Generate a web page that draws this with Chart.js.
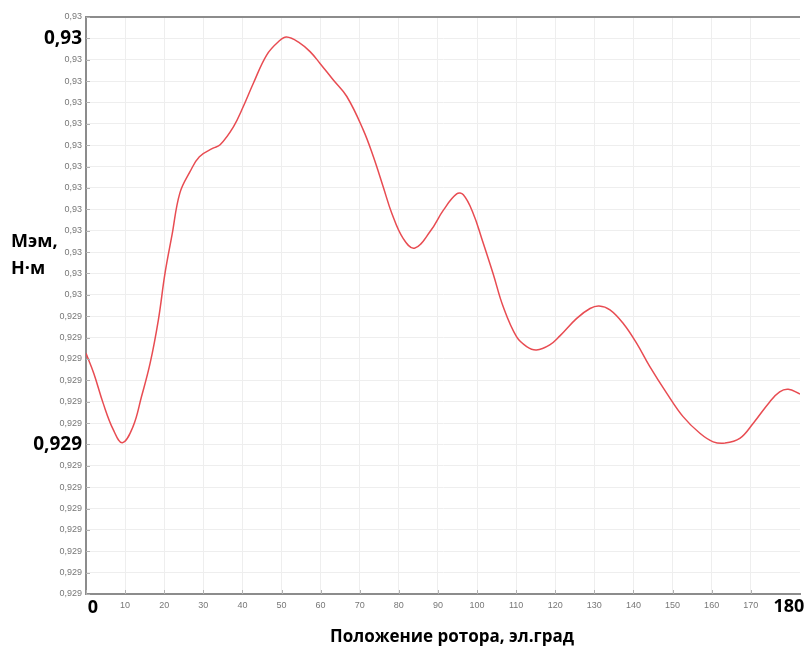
<!doctype html>
<html lang="ru">
<head>
<meta charset="utf-8">
<title>Мэм от положения ротора</title>
<script src="https://cdn.jsdelivr.net/npm/chart.js@4.4.0/dist/chart.umd.min.js"></script>
<style>
  body { margin: 0; background: #fff; }
  #wrap { width: 807px; height: 650px; }
</style>
</head>
<body>
<div id="wrap"><canvas id="chart" width="807" height="650"></canvas></div>
<script>
// положение ротора, эл.град
var rotorAngle = [0, 2, 4.4, 7, 9.3, 12, 14.2, 16.4, 18.5, 20.2, 22, 24, 26.6, 29, 32.5, 34.3, 37.7, 40.2,
  42.8, 46.2, 49.2, 51.3, 54.7, 57.3, 59.8, 63.2, 66.7, 70.9, 73.5, 76, 78.2, 81.1, 84, 88, 91.4, 94.8,
  96.5, 99, 101.2, 104.1, 106.7, 110.1, 112.7, 115.2, 118.6, 121.2, 125.5, 128.9, 131.2, 134, 137.4,
  140.8, 144.2, 148.5, 152.7, 157, 160.4, 163.4, 167.2, 170.6, 174.9, 177.4, 179.6, 182.6];
// электромагнитный момент, Н·м
var torque = [0.929393, 0.929346, 0.929276, 0.929214, 0.929184, 0.929221, 0.929292, 0.929370, 0.929471,
  0.929580, 0.929670, 0.929768, 0.929818, 0.929853, 0.929873, 0.929881, 0.929923, 0.929970, 0.930025,
  0.930091, 0.930122, 0.930133, 0.930119, 0.930099, 0.930072, 0.930033, 0.929994, 0.929916, 0.929853,
  0.929783, 0.929721, 0.929662, 0.929639, 0.929678, 0.929728, 0.929766, 0.929764, 0.929721, 0.929662,
  0.929580, 0.929502, 0.929432, 0.929409, 0.929401, 0.929413, 0.929434, 0.929475, 0.929498, 0.929504,
  0.929495, 0.929463, 0.929417, 0.929362, 0.929300, 0.929245, 0.929206, 0.929186, 0.929183, 0.929194,
  0.929229, 0.929280, 0.929303, 0.929309, 0.929298];

// подписи оси Y (сверху вниз), жирные - индексы 1 и 20
var yTickLabels = ['0,93', '0,93', '0,93', '0,93', '0,93', '0,93', '0,93', '0,93', '0,93', '0,93',
  '0,93', '0,93', '0,93', '0,93', '0,929', '0,929', '0,929', '0,929', '0,929', '0,929', '0,929',
  '0,929', '0,929', '0,929', '0,929', '0,929', '0,929', '0,929'];
var yBold = [1, 20];
var yMax = 0.93018;
var yStep = 0.00005;

var xBoldLabels = ['0', '180'];
var xTitle = 'Положение ротора, эл.град';
var yTitle = ['Мэм,', 'Н·м'];

var points = [];
for (var i = 0; i < rotorAngle.length; i++) {
  points.push({ x: rotorAngle[i], y: torque[i] });
}

var axisGray = '#8c8c8c';

// рамка сверху, засечки внутрь, подписи осей
var extras = {
  id: 'extras',
  afterDraw: function (chart) {
    var ctx = chart.ctx;
    var a = chart.chartArea;
    var xs = chart.scales.x, ys = chart.scales.y;
    ctx.save();
    ctx.strokeStyle = axisGray;
    ctx.lineWidth = 2;
    ctx.beginPath();
    ctx.moveTo(a.left, a.top);
    ctx.lineTo(a.right, a.top);
    ctx.stroke();

    ctx.lineWidth = 1;
    ctx.strokeStyle = '#b0b0b0';
    ctx.beginPath();
    ys.ticks.forEach(function (t) {
      var py = Math.round(ys.getPixelForValue(t.value)) + 0.5;
      ctx.moveTo(a.left, py); ctx.lineTo(a.left + 4, py);
    });
    xs.ticks.forEach(function (t) {
      var px = Math.round(xs.getPixelForValue(t.value)) + 0.5;
      ctx.moveTo(px, a.bottom); ctx.lineTo(px, a.bottom - 4);
    });
    ctx.stroke();

    ctx.fillStyle = '#000';
    ctx.font = 'bold 18px "Open Sans"';
    ctx.textBaseline = 'top';
    ctx.textAlign = 'center';
    ctx.fillText(xBoldLabels[0], xs.getPixelForValue(0) + 7, a.bottom + 5);
    ctx.fillText(xBoldLabels[1], xs.getPixelForValue(180) - 1, a.bottom + 4);

    ctx.font = 'bold 17px "Open Sans"';
    ctx.textBaseline = 'middle';
    ctx.fillText(xTitle, (a.left + a.right) / 2 + 9, 637);

    ctx.font = 'bold 18px "Open Sans"';
    ctx.textAlign = 'left';
    ctx.fillText(yTitle[0], 11, 242);
    ctx.fillText(yTitle[1], 11, 269);
    ctx.restore();
  }
};

new Chart(document.getElementById('chart').getContext('2d'), {
  type: 'scatter',
  data: {
    datasets: [{
      data: points,
      showLine: true,
      borderColor: 'rgb(232, 76, 82)',
      borderWidth: 1.5,
      pointRadius: 0,
      tension: 0.4,
      fill: false
    }]
  },
  options: {
    responsive: false,
    animation: false,
    layout: { padding: { top: 17, right: 7, left: 0, bottom: 0 } },
    plugins: {
      legend: { display: false },
      tooltip: { enabled: false }
    },
    scales: {
      x: {
        type: 'linear',
        min: 0,
        max: 182.6,
        afterBuildTicks: function (scale) {
          scale.ticks = scale.ticks.filter(function (t) { return t.value % 10 === 0; });
        },
        afterFit: function (scale) { scale.height = 56; },
        ticks: {
          stepSize: 10,
          autoSkip: false,
          maxRotation: 0,
          padding: 6,
          color: '#777',
          font: { family: 'Liberation Sans', size: 9 },
          callback: function (v) { return (v === 0 || v === 180) ? '' : String(v); }
        },
        grid: { color: '#eeeeee', drawTicks: false },
        border: { color: axisGray, width: 2 }
      },
      y: {
        min: yMax - (yTickLabels.length - 1) * yStep,
        max: yMax,
        afterBuildTicks: function (scale) {
          var t = [];
          for (var k = yTickLabels.length - 1; k >= 0; k--) {
            t.push({ value: yMax - k * yStep });
          }
          scale.ticks = t;
        },
        afterFit: function (scale) { scale.width = 86; },
        ticks: {
          autoSkip: false,
          padding: 4,
          color: function (c) {
            var idx = yTickLabels.length - 1 - c.index;
            return yBold.indexOf(idx) >= 0 ? '#000' : '#777';
          },
          font: function (c) {
            var idx = yTickLabels.length - 1 - c.index;
            return yBold.indexOf(idx) >= 0
              ? { family: 'Open Sans', size: 19, weight: 'bold' }
              : { family: 'Liberation Sans', size: 9 };
          },
          callback: function (v, idx) { return yTickLabels[yTickLabels.length - 1 - idx]; }
        },
        grid: { color: '#eeeeee', drawTicks: false },
        border: { color: axisGray, width: 2 }
      }
    }
  },
  plugins: [extras]
});
</script>
</body>
</html>
